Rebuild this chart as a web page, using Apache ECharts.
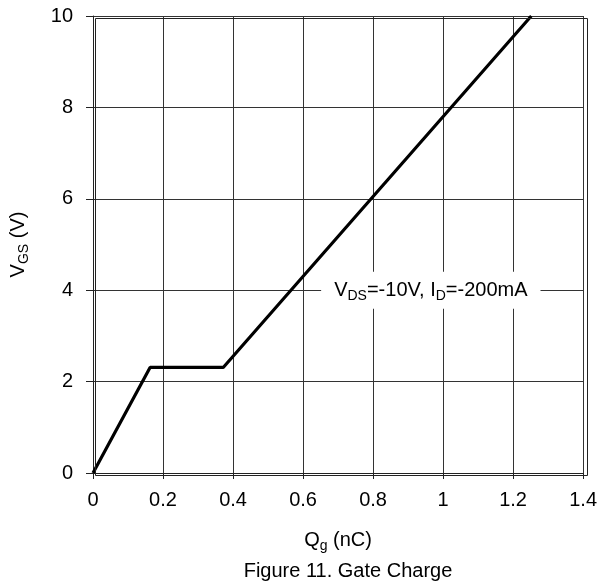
<!DOCTYPE html>
<html><head><meta charset="utf-8">
<script src="https://cdn.jsdelivr.net/npm/echarts@6/dist/echarts.min.js"></script>
<style>html,body{margin:0;padding:0;background:#fff}#c{width:600px;height:584px}</style>
</head><body><div id="c"></div>
<script>
const qg = [0, 0.163, 0.372, 1.252];
const vgs = [0, 2.31, 2.31, 10];
const xTicks = [0, 0.2, 0.4, 0.6, 0.8, 1, 1.2, 1.4];
const yTicks = [0, 2, 4, 6, 8, 10];
const annotPos = [0.965, 4];
const annotText = '{n|V}{s|DS}{n|=-10V, I}{s|D}{n|=-200mA}';

const font = 'Liberation Sans, Arial, Helvetica, sans-serif';
const FS = 20, SFS = 14;
const rich = {n: {fontFamily: font, fontSize: FS, color: '#000'},
  s: {fontFamily: font, fontSize: SFS, color: '#000', padding: [11, 0, 0, 0]}};
const chart = echarts.init(document.getElementById('c'));
const axisLine = {show: true, lineStyle: {color: '#222', width: 1}};
chart.setOption({
  animation: false,
  title: {text: 'Figure 11. Gate Charge', left: 343, textAlign: 'center', top: 556,
    textStyle: {fontFamily: font, fontSize: FS, fontWeight: 'normal', color: '#000'}},
  grid: {left: 93, right: 15, top: 16, bottom: 111},
  xAxis: {type: 'value', min: 0, max: 1.4, interval: 0.2,
    name: '{n|Q}{s|g}{n| (nC)}', nameLocation: 'middle', nameGap: 55,
    nameTextStyle: {rich: rich},
    axisLine: axisLine,
    axisTick: {show: true, length: 6, inside: false, lineStyle: {color: '#222'}},
    axisLabel: {fontFamily: font, fontSize: FS, color: '#000', margin: 17,
      formatter: v => { const t = xTicks.find(k => Math.abs(k - v) < 1e-9); return t === undefined ? '' : String(t); }},
    splitLine: {show: true, lineStyle: {color: '#333', width: 1}}
  },
  yAxis: {type: 'value', min: 0, max: 10, interval: 2,
    name: '{n|V}{s|GS}{n| (V)}', nameLocation: 'middle', nameGap: 62, nameRotate: 90,
    nameTextStyle: {rich: rich},
    axisLine: axisLine,
    axisTick: {show: true, length: 7, inside: false, lineStyle: {color: '#222'}},
    axisLabel: {fontFamily: font, fontSize: FS, color: '#000', margin: 20,
      formatter: v => { const t = yTicks.find(k => Math.abs(k - v) < 1e-9); return t === undefined ? '' : String(t); }},
    splitLine: {show: true, lineStyle: {color: '#333', width: 1}}
  },
  graphic: [{type: 'rect', left: 93, top: 16, shape: {width: 492, height: 457}, z: 100, silent: true,
    style: {fill: 'none', stroke: '#222', lineWidth: 1}}],
  series: [
    {type: 'line', data: qg.map((x, i) => [x, vgs[i]]), symbol: 'none',
     lineStyle: {color: '#000', width: 3.2}, z: 5},
    {type: 'scatter', data: [annotPos], symbolSize: 0, z: 10, itemStyle: {opacity: 1},
     label: {show: true, position: 'inside', formatter: annotText, backgroundColor: '#fff',
       opacity: 1, padding: [6, 13, 6, 13], rich: rich}}
  ]
});
</script></body></html>
